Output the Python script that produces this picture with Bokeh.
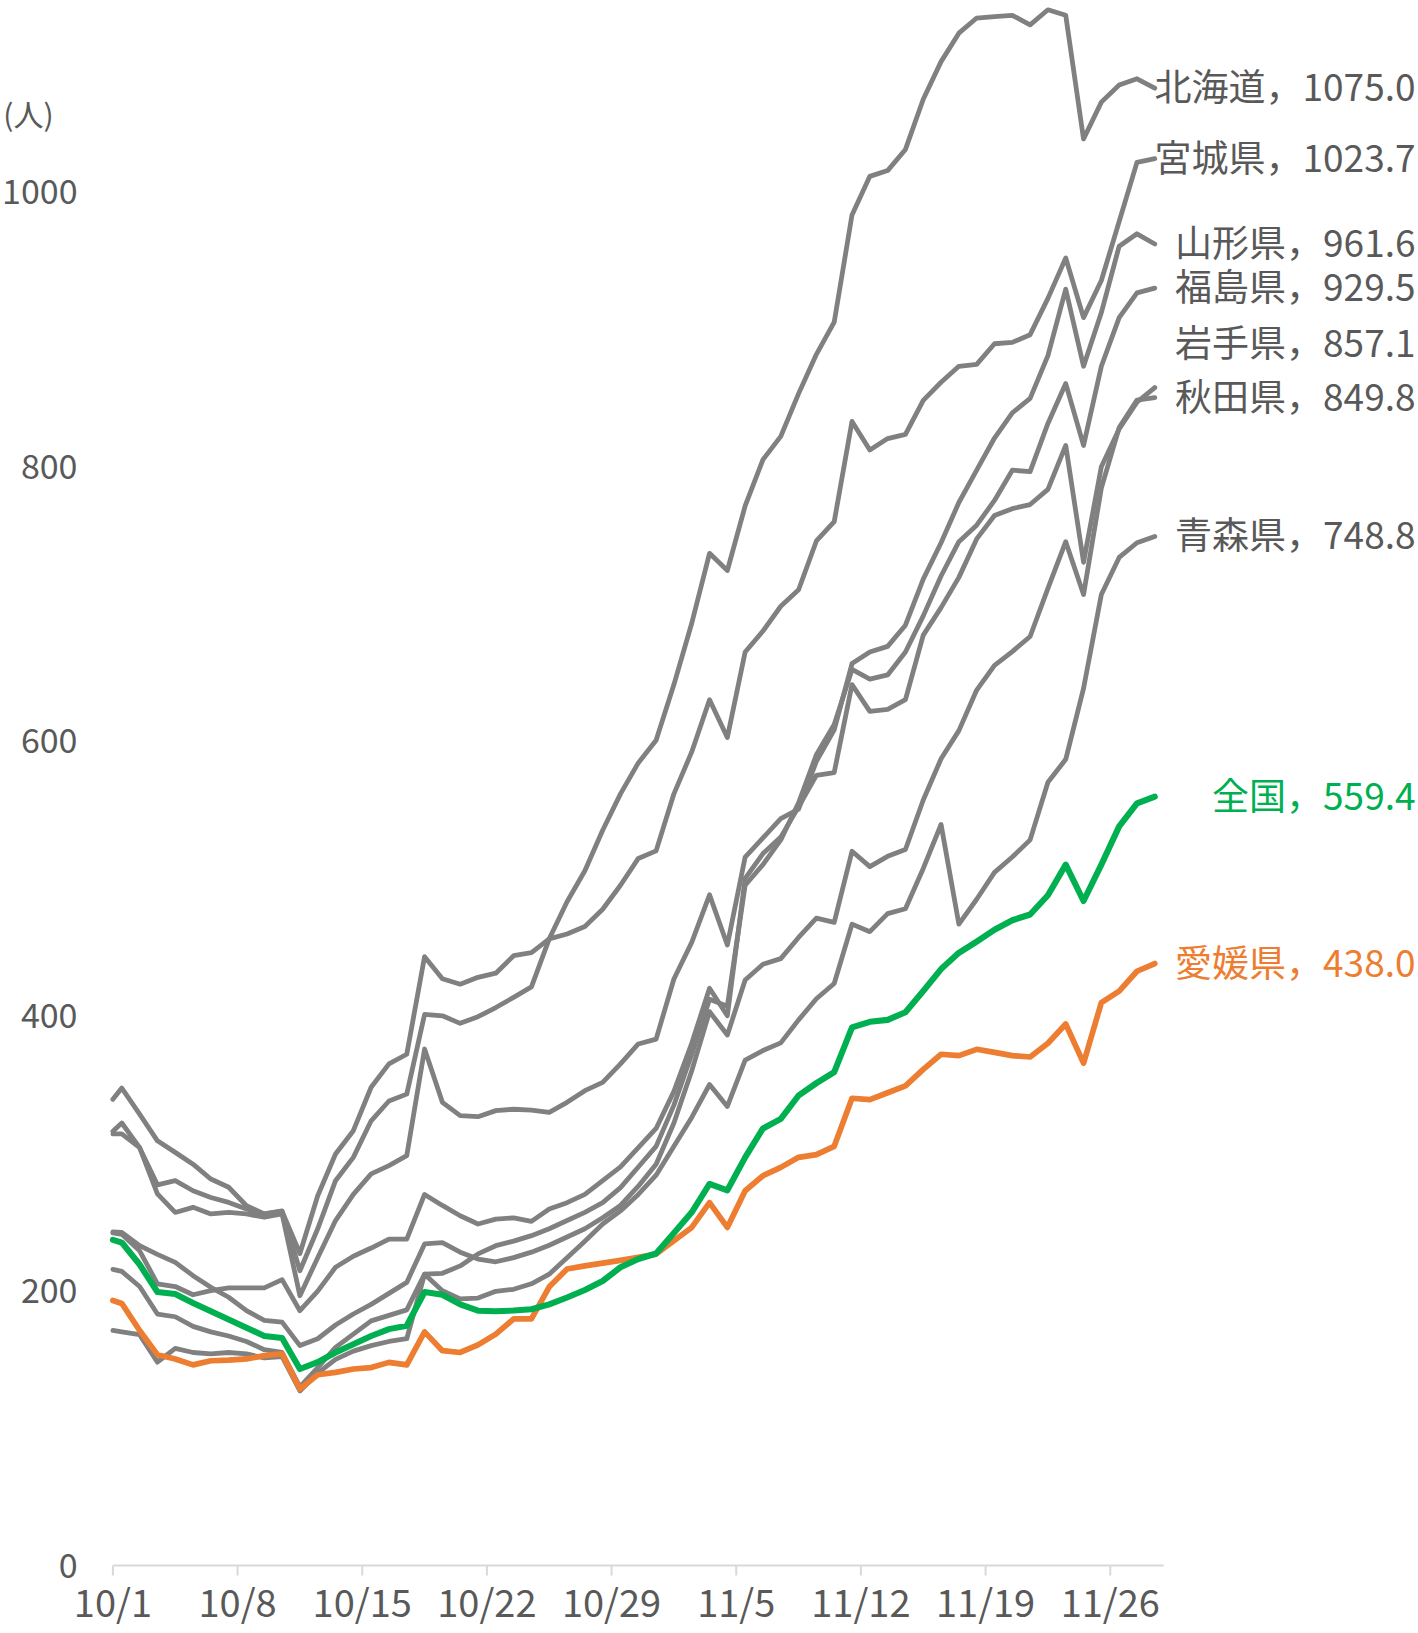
import pandas as pd
from bokeh.plotting import figure
from bokeh.models import Range1d, ColumnDataSource, LabelSet, Label, FixedTicker
from bokeh.embed import file_html
from bokeh.resources import INLINE
from bokeh.core.properties import value

# ---------------- data ----------------
YEAR = 2022
first_date = "2022-09-30"   # first point lies before the axis start (line enters from the edge)
last_date = "2022-11-28"
axis_start = "2022-10-01"

tick_labels = ["10/1", "10/8", "10/15", "10/22", "10/29", "11/5", "11/12", "11/19", "11/26"]
y_ticks = [0, 200, 400, 600, 800, 1000]
unit_label = "(人)"

hokkaido = [310, 322, 304, 277, 280, 272.7, 267.8, 264.2, 259.4, 255.8, 258,
            214.5, 245, 280, 297, 323.6, 338, 343, 401, 400, 394.5,
            399.3, 406, 413.4, 421, 456, 483, 505.5, 535, 561.5, 584,
            600.5, 641, 685.6, 736.5, 724, 771, 804.7, 821.6, 852.7, 881.3,
            904.7, 982.7, 1010.8, 1015, 1030.4, 1066.9, 1094.3, 1115, 1126, 1127,
            1128, 1121, 1132, 1128, 1038, 1064.8, 1077.3, 1081.8, 1075.0]
miyagi = [331, 347.4, 328.5, 309, 300.6, 292, 281.2, 275.2, 261.8, 255.8, 257.7,
          227, 269, 299.4, 316.4, 348, 365, 372, 443, 427, 423,
          428, 431, 443.7, 446, 456, 459.5, 465, 477.5, 495, 514.5,
          520, 561.5, 592, 630, 602.5, 664.7, 680, 698, 710, 745.5,
          759.5, 832.5, 811.7, 820, 823, 847.8, 861, 872.6, 874, 889,
          890, 895.6, 922, 951.4, 908, 935, 978, 1021, 1023.7]
yamagata = [314, 314, 304, 270.4, 256.9, 260.6, 255.8, 257, 255.8, 253.4, 255.8,
            196.3, 224, 251, 270, 285, 291, 298.2, 375.8, 337, 327.3,
            326.6, 331, 332, 331.4, 329.7, 337, 345.5, 351.5, 365, 379.5,
            383, 426.8, 453.4, 488, 451.5, 515.5, 529.4, 543.4, 550.4, 585.2,
            608, 656.3, 664.7, 668.8, 684.2, 717.7, 744.2, 773.5, 797, 820.4,
            838.7, 849.2, 880.4, 928.7, 872.6, 911.7, 960, 969, 961.6]
fukushima = [217, 214, 203, 183, 181, 174, 170, 167, 163, 157, 155,
             130, 144, 158.7, 168.4, 178, 182, 186, 212, 212.6, 218,
             226.7, 232.7, 236, 240, 245, 251, 257, 264, 275, 290,
             305, 335, 372, 412, 407, 495, 510, 528, 555, 590,
             612, 652, 645, 648, 664.7, 691, 720, 745, 757, 775,
             797, 796, 831, 860, 815, 872.6, 908, 926, 929.5]
iwate = [243, 241, 229, 205, 203, 197, 200, 202, 202, 202, 208,
         185.4, 199.6, 217, 225, 231, 237.5, 237.5, 270, 262, 254.5,
         248.5, 252, 253, 250.4, 259.4, 264, 270, 280, 290, 304,
         318, 345, 380, 420, 400, 500, 518, 530, 552, 575,
         577, 641, 621.5, 623, 630, 677, 697, 719, 747, 764,
         769, 772, 783, 815, 730, 799.5, 827, 846.5, 857.1]
akita = [243, 242.4, 232.7, 226.4, 220.6, 210.9, 202.4, 195.2, 185.5, 178.3, 177.1,
         160, 165, 175, 183, 190, 198, 206, 234, 235, 228,
         223, 221, 224, 228, 233, 239, 245, 253, 262, 276,
         292, 322, 360, 403, 386, 426, 437.5, 441.6, 457, 471,
         468, 519.7, 508.5, 516, 521, 557, 587, 607.5, 637, 655,
         665, 676, 711, 745, 706.5, 784, 828, 848, 849.8]
aomori = [172, 170, 168, 148, 158, 155, 154, 155, 154, 151, 152,
          127, 140, 150, 156, 160, 163, 165, 212, 200, 194,
          194.6, 199.5, 201, 205, 212, 224, 236, 248.5, 258, 270,
          284, 305, 326, 350, 334, 367.7, 374.7, 380.3, 397, 412.4,
          423.5, 466.7, 461.2, 474.3, 477.9, 507.2, 539.2, 466.7, 484.8, 504.4,
          515.5, 528, 569.9, 586.6, 638.2, 706.5, 733.5, 744.2, 748.8]
zenkoku = [239, 235, 219, 199, 197.5, 191, 185, 179, 173, 167, 165.5,
           143, 148, 155, 161, 167, 172, 174.5, 199, 197, 190,
           185.4, 185, 185.5, 186.5, 190, 195, 200.5, 207, 217, 223,
           227, 242, 257, 277.6, 273, 297, 318, 325, 342, 351,
           359, 391.5, 395.6, 397, 402.6, 418, 434, 445.8, 454, 462.6,
           469.5, 473.7, 487.7, 510, 483.5, 510, 537.8, 554.5, 559.4]
ehime = [195, 190.7, 171, 153.4, 150.3, 146, 149, 149.5, 150.3, 152.7, 154,
         128.4, 138.8, 140.5, 143, 144, 147.8, 146, 170, 156.3, 155,
         160.5, 168.4, 179.4, 179.4, 202.8, 215.7, 218, 220, 222, 224.2,
         226.6, 236.3, 246, 264, 246, 272.7, 283.6, 289.7, 297, 299,
         305, 340, 339, 344, 349, 361, 372, 371, 375.6, 373.4,
         371, 370, 380, 394, 365.5, 409.6, 418, 432.4, 438]

gray_names = ["北海道", "宮城県", "山形県", "福島県", "岩手県", "秋田県", "青森県"]
gray_series = [hokkaido, miyagi, yamagata, fukushima, iwate, akita, aomori]

# ---------------- styles / layout ----------------
GRAY = "#808080"
GREEN = "#00b050"
ORANGE = "#ed7d31"
TEXT = "#595959"
AXIS = "#d9d9d9"
FONT = "'Noto Sans CJK JP', sans-serif"
FIG_W, FIG_H = 1416, 1631
ZERO_PX = 1565             # page y of the value 0
PAD_PX = 24                # plot area continues a little below the zero line
FRAME_LEFT_PX = 112.4      # where 10/1 sits
PX_PER_DAY = 17.81
PX_PER_UNIT = 1.3743
TICK_PX = 10
YLABEL_RIGHT_PX = 77
ENDLABEL_RIGHT_PX = 1415
XLABEL_TOP_PX = 1572
label_shift = {"岩手県": 31.5}   # label moved up to avoid overlap

# ---------------- derived ----------------
t0 = pd.Timestamp(axis_start)
dates = pd.date_range(first_date, last_date, freq="D")
xs = [(d - t0).days + 0.5 for d in dates]
x_end = (pd.Timestamp(last_date) - t0).days + 1
tick_x = [(pd.Timestamp(f"{YEAR}/{lbl}") - t0).days for lbl in tick_labels]

x_lo = -FRAME_LEFT_PX / PX_PER_DAY
x_hi = (FIG_W - FRAME_LEFT_PX) / PX_PER_DAY
y_hi = ZERO_PX / PX_PER_UNIT
y_lo = -PAD_PX / PX_PER_UNIT
frame_bottom = ZERO_PX + PAD_PX


def from_axis_start(x, y):
    """Cut the polyline at the start of the date axis (x = 0), like a plot-area clip."""
    x0, x1, y0, y1 = x[0], x[1], y[0], y[1]
    yc = y0 + (y1 - y0) * (0 - x0) / (x1 - x0)
    return [0] + list(x[1:]), [yc] + list(y[1:])


p = figure(width=FIG_W, height=FIG_H,
           x_range=Range1d(x_lo, x_hi), y_range=Range1d(y_lo, y_hi),
           output_backend="svg", toolbar_location=None,
           y_axis_location=None,
           min_border_left=0, min_border_right=0,
           min_border_top=0, min_border_bottom=FIG_H - frame_bottom)
p.xgrid.visible = False
p.ygrid.visible = False
p.outline_line_color = None
p.background_fill_color = "white"
p.border_fill_color = "white"

# date axis: labels from the axis, its line and ticks drawn on the zero line
ax = p.xaxis[0]
ax.ticker = FixedTicker(ticks=tick_x)
ax.major_label_overrides = {t: l for t, l in zip(tick_x, tick_labels)}
ax.axis_line_color = None
ax.major_tick_line_color = None
ax.major_tick_out = 0
ax.major_tick_in = 0
ax.minor_tick_line_color = None
ax.major_label_text_font = FONT
ax.major_label_text_font_size = "38px"
ax.major_label_text_color = TEXT
ax.major_label_standoff = XLABEL_TOP_PX - frame_bottom

p.segment(x0=[0], y0=[0], x1=[x_end], y1=[0], line_color=AXIS, line_width=2)
tick_len = TICK_PX / PX_PER_UNIT
p.segment(x0=tick_x, y0=[0] * len(tick_x), x1=tick_x, y1=[-tick_len] * len(tick_x),
          line_color=AXIS, line_width=2)

for s in gray_series:
    lx, ly = from_axis_start(xs, s)
    p.line(lx, ly, line_color=GRAY, line_width=4.8, line_join="round", line_cap="round")
lx, ly = from_axis_start(xs, ehime)
p.line(lx, ly, line_color=ORANGE, line_width=5.7, line_join="round", line_cap="round")
lx, ly = from_axis_start(xs, zenkoku)
p.line(lx, ly, line_color=GREEN, line_width=6.1, line_join="round", line_cap="round")

# value labels
ylab_x = (YLABEL_RIGHT_PX - FRAME_LEFT_PX) / PX_PER_DAY
ylab = ColumnDataSource(dict(x=[ylab_x] * len(y_ticks), y=y_ticks, text=[str(t) for t in y_ticks]))
p.add_layout(LabelSet(x="x", y="y", text="text", source=ylab, text_align="right",
                      text_baseline="middle", text_font=value(FONT),
                      text_font_size="34px", text_color=TEXT))
p.add_layout(Label(x=(28 - FRAME_LEFT_PX) / PX_PER_DAY, y=(ZERO_PX - 112) / PX_PER_UNIT,
                   text=unit_label, text_align="center", text_baseline="middle",
                   text_font=FONT, text_font_size="30px", text_color=TEXT))

# end labels
names = gray_names + ["全国", "愛媛県"]
series = gray_series + [zenkoku, ehime]
colors = [TEXT] * len(gray_names) + [GREEN, ORANGE]
end_x = (ENDLABEL_RIGHT_PX - FRAME_LEFT_PX) / PX_PER_DAY
end_src = ColumnDataSource(dict(
    x=[end_x] * len(names),
    y=[s[-1] + label_shift.get(n, 0) for n, s in zip(names, series)],
    text=[f"{n}，{s[-1]:.1f}" for n, s in zip(names, series)],
    color=colors))
p.add_layout(LabelSet(x="x", y="y", text="text", source=end_src, text_align="right",
                      text_baseline="middle", y_offset=3, text_font=value(FONT),
                      text_font_size="37px", text_color="color"))

open("out.html", "w").write(file_html(p, INLINE))
